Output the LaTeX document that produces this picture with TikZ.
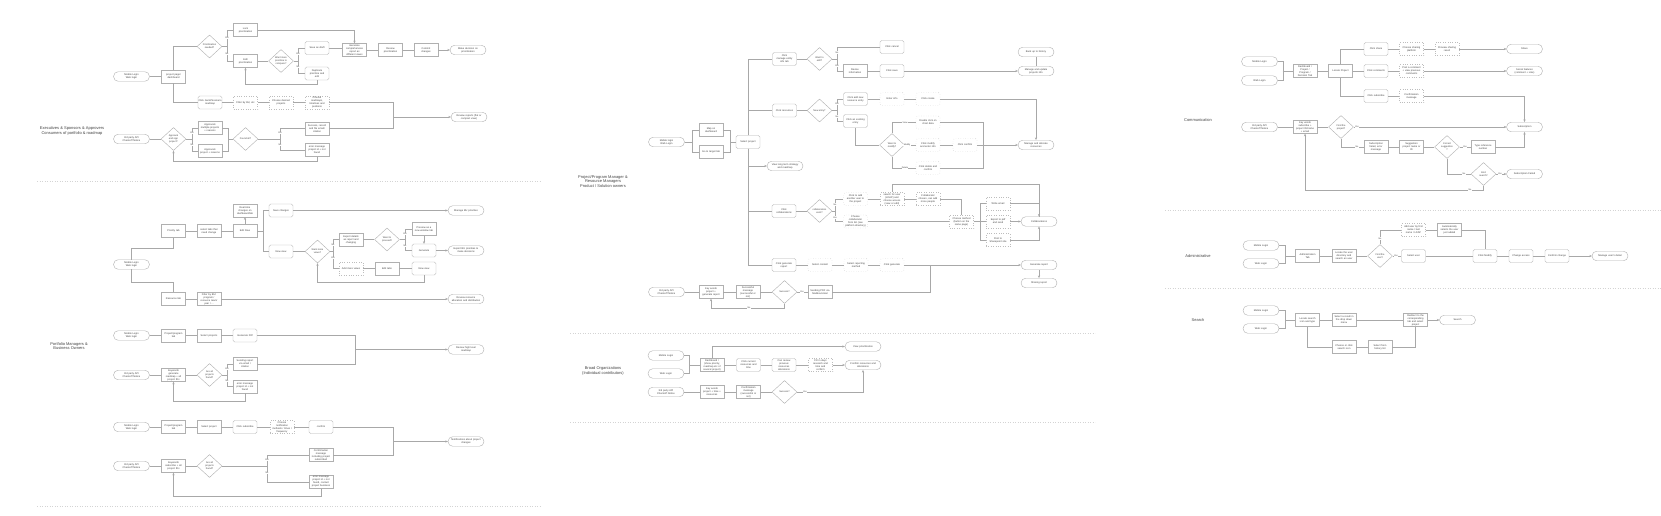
\documentclass[tikz,border=0pt]{standalone}
\usepackage{fontspec}
\setmainfont{Liberation Sans}
\usetikzlibrary{arrows.meta,shapes.geometric}

\definecolor{edgec}{HTML}{B0B0B0}
\definecolor{dotc}{HTML}{BDBDBD}
\definecolor{wirec}{HTML}{A8A8A8}
\definecolor{inkc}{HTML}{444444}
\definecolor{sepc}{HTML}{D4D4D4}

\begin{document}
\begin{tikzpicture}[x=1pt, y=-1pt,
  every node/.style={text=inkc},
  box/.style={draw=edgec, line width=0.4pt, rectangle, minimum width=24pt, minimum height=13pt,
    text width=23pt, inner sep=0.4pt, align=center, font=\fontsize{2.5}{3}\selectfont},
  rbox/.style={box, rounded corners=1.6pt},
  dbox/.style={box, draw=dotc, dotted},
  drbox/.style={rbox, draw=dotc, dotted},
  pill/.style={draw=edgec, line width=0.4pt, rounded corners=4.5pt, minimum width=35pt,
    minimum height=9.5pt, text width=35pt, inner sep=0.4pt, align=center, font=\fontsize{2.5}{3}\selectfont},
  dec/.style={draw=edgec, line width=0.4pt, diamond, aspect=1.05, minimum width=25pt,
    minimum height=23pt, inner sep=0pt, align=center, font=\fontsize{2.4}{2.9}\selectfont},
  yn/.style={fill=white, inner sep=0.3pt, font=\fontsize{2.2}{2.4}\selectfont},
  lane/.style={align=center, font=\fontsize{4}{4.6}\selectfont},
  wire/.style={draw=wirec, line width=0.4pt},
  arr/.style={wire, -{Stealth[length=2.6pt,width=2.2pt]}},
  sep/.style={draw=sepc, line width=0.5pt, dotted}]

  \fill[white] (0,0) rectangle (1661,516);
  \useasboundingbox (0,0) rectangle (1661,516);

  % lane separators
  \draw[sep] (37,181) -- (540,181);
  \draw[sep] (37,506) -- (540,506);
  \draw[sep] (570,333) -- (1095,333);
  \draw[sep] (570,422) -- (1095,422);
  \draw[sep] (1165,210) -- (1661,210);
  \draw[sep] (1165,288) -- (1661,288);

  % ---------- executives: prioritization ----------
  \node[lane] (laneA) at (72,131) {Executives \& Sponsors \& Approvers\\Consumers of portfolio \& roadmap};
  \node[pill] (aLogin) at (131.5,76.5) {Mobile Login\\Web login};
  \node[box]  (aDash)  at (173.5,76.5) {project page/\\dashboard};
  \node[dec]  (aPrio)  at (209.5,46.5) {Prioritization\\needed?};
  \node[box]  (aLock)  at (245.5,30) {Lock\\prioritization};
  \node[box]  (aEdit)  at (245.5,61) {Edit\\prioritization};
  \node[dec]  (aMore)  at (281,61) {Want more\\prioritize to\\compare?};
  \node[rbox] (aDraft) at (317,48) {Save as draft};
  \node[rbox] (aDup)   at (317,73.5) {Duplicate\\prioritize and\\edit};
  \node[box]  (aGen)   at (354.5,50) {Generate\\comprehensive\\report as\\different views};
  \node[box]  (aRev)   at (390.5,50) {Review\\prioritization};
  \node[box]  (aCommit) at (426,50) {Commit\\changes};
  \node[pill] (aDecide) at (468,50) {Make decision on\\prioritization};
  \node[rbox] (aGantt) at (210,102.5) {Click Gantt/Scenario\\roadmap};
  \node[dbox] (aFilter) at (245.5,102.5) {Filter by BU, etc};
  \node[dbox] (aPick)  at (281,102.5) {Choose desired\\projects};
  \node[dbox] (aRoad)  at (317,102.5) {Choose\\roadmaps,\\timelines and\\positions};
  \node[pill] (aReports) at (469,117) {Review reports (flat or\\compact view)};
  \coordinate (aJoin) at (393,117);
  \coordinate (aPrioB) at (227,46.5);
  \coordinate (aMoreB) at (298,61);
  \coordinate (aLoop) at (317,84);

  \draw[wire] (aLogin) -- (aDash);
  \draw[wire] (aDash.north) |- (aPrio.west);
  \draw[wire] (aDash.south) |- (aGantt.west);
  \draw[wire] (aPrio.east) -- (aPrioB);
  \draw[wire] (aPrioB) |- (aLock.west);
  \draw[wire] (aPrioB) |- (aEdit.west);
  \draw[wire] (aEdit) -- (aMore);
  \draw[wire] (aMore.east) -- (aMoreB);
  \draw[wire] (aMoreB) |- (aDraft.west);
  \draw[wire] (aMoreB) |- (aDup.west);
  \draw[arr]  (aDup.south) -- (aLoop) -| (aEdit.south);
  \draw[arr]  (aLock.east) -| (aGen.north);
  \draw[wire] (aDraft.east) -- (aDraft.east -| aGen.west);
  \draw[wire] (aGen) -- (aRev);
  \draw[wire] (aRev) -- (aCommit);
  \draw[arr]  (aCommit) -- (aDecide);
  \draw[wire] (aGantt) -- (aFilter);
  \draw[wire] (aFilter) -- (aPick);
  \draw[wire] (aPick) -- (aRoad);
  \draw[wire] (aRoad.east) -| (aJoin);
  \draw[arr]  (aJoin) -- (aReports.west);
  \node[yn] (aY1) at (227,38) {Yes};
  \node[yn] (aN1) at (227,54) {No};
  \node[yn] (aY2) at (298,54) {Yes};
  \node[yn] (aN2) at (298,67) {No};

  % executives: approvals
  \node[pill] (aApi)   at (131.5,139) {3rd party API\\Checkoff Notice};
  \node[dec]  (aSign)  at (173.5,139) {Approval\\and sign\\project?};
  \node[box]  (aMulti) at (210,128) {Approvals\\multiple projects\\+ reasons};
  \node[box]  (aOne)   at (210,151) {Approvals\\project + reasons};
  \node[dec]  (aFound) at (245.5,139) {Found all?};
  \node[box]  (aOk)    at (317,128.5) {Success, record\\and file email/\\citation};
  \node[box]  (aErr)   at (317,150) {error message\\project id + not\\found};
  \coordinate (aSignB) at (192,139);
  \coordinate (aFoundIn) at (228,139);
  \coordinate (aFoundB) at (280,139);
  \coordinate (aLoop2) at (317,161);

  \draw[wire] (aApi) -- (aSign);
  \draw[wire] (aSign.east) -- (aSignB);
  \draw[wire] (aSignB) |- (aMulti.west);
  \draw[wire] (aSignB) |- (aOne.west);
  \draw[wire] (aMulti.east) -| (aFoundIn);
  \draw[wire] (aOne.east) -| (aFoundIn);
  \draw[wire] (aFoundIn) -- (aFound.west);
  \draw[wire] (aFound.east) -- (aFoundB);
  \draw[wire] (aFoundB) |- (aOk.west);
  \draw[wire] (aFoundB) |- (aErr.west);
  \draw[wire] (aOk.east) -| (aJoin);
  \draw[arr]  (aErr.south) -- (aLoop2) -| (aSign.south);
  \node[yn] (aY3) at (192,133) {Yes};
  \node[yn] (aN3) at (192,145) {No};
  \node[yn] (aY4) at (280,133) {Yes};
  \node[yn] (aN4) at (280,145) {No};

  % ---------- BU priorities and resources ----------
  \node[pill] (bLogin) at (131.5,264.5) {Mobile Login\\Web login};
  \node[box]  (bPrio)  at (173.5,231) {Priority tab};
  \node[box]  (bSel)   at (209,231) {select tabs that\\need change};
  \node[box]  (bEdit)  at (245,231) {Edit Row};
  \node[box]  (bLive)  at (245,210.5) {Real-time\\changes on\\dashboard/tab};
  \node[rbox] (bSave)  at (281,210.5) {Save changes};
  \node[rbox] (bView)  at (281,251.5) {New view};
  \node[dec]  (bMore)  at (317.5,251.5) {Want more\\views?};
  \node[box]  (bExp)   at (351,239.5) {Export details\\as report and\\changing};
  \node[dbox] (bAdd)   at (351,268.5) {Add more views};
  \node[dec]  (bGo)    at (387,239.5) {Want to\\proceed?};
  \node[box]  (bPrev)  at (424,229) {Preview as a\\new window tab};
  \node[rbox] (bGen)   at (424,250.5) {Generate};
  \node[box]  (bTabs)  at (387,268.5) {Edit tabs};
  \node[rbox] (bNew)   at (424,268.5) {New view};
  \node[pill] (bManage) at (466,210.5) {Manage BU priorities};
  \node[pill] (bDecide) at (466,250.5) {Export BU priorities to\\make decisions};
  \node[box]  (bRes)   at (173.5,299) {Resource tab};
  \node[box]  (bFilt)  at (209,299) {Filter by BU/\\program /\\resource team/\\year / ...};
  \node[pill] (bAlloc) at (466,299) {Review resource\\allocation and distribution};
  \coordinate (bTop) at (131.5,248);
  \coordinate (bBot) at (131.5,282);
  \coordinate (bFork) at (263,231);
  \coordinate (bMoreB) at (333,251.5);
  \coordinate (bGoB) at (405,239.5);
  \coordinate (bLoop) at (424,282);

  \draw[wire] (bLogin.north) -- (bTop) -| (bPrio.south);
  \draw[wire] (bLogin.south) -- (bBot) -| (bRes.north);
  \draw[wire] (bPrio) -- (bSel);
  \draw[wire] (bSel) -- (bEdit);
  \draw[arr]  (bEdit.north) -- (bLive.south);
  \draw[wire] (bEdit.east) -- (bFork);
  \draw[wire] (bFork) |- (bSave.west);
  \draw[wire] (bFork) |- (bView.west);
  \draw[arr]  (bSave) -- (bManage);
  \draw[wire] (bView) -- (bMore);
  \draw[wire] (bMore.east) -- (bMoreB);
  \draw[wire] (bMoreB) |- (bExp.west);
  \draw[wire] (bMoreB) |- (bAdd.west);
  \draw[wire] (bExp) -- (bGo);
  \draw[wire] (bGo.east) -- (bGoB);
  \draw[wire] (bGoB) |- (bPrev.west);
  \draw[wire] (bGoB) |- (bGen.west);
  \draw[arr]  (bPrev.south) -- (bGen.north);
  \draw[arr]  (bGen) -- (bDecide);
  \draw[wire] (bAdd) -- (bTabs);
  \draw[wire] (bTabs) -- (bNew);
  \draw[arr]  (bNew.south) -- (bLoop) -| (bMore.south);
  \draw[wire] (bRes) -- (bFilt);
  \draw[arr]  (bFilt) -- (bAlloc);
  \node[yn] (bN1) at (333,245) {No};
  \node[yn] (bY1) at (333,258) {Yes};
  \node[yn] (bY2) at (405,234) {Yes};
  \node[yn] (bN2) at (405,246) {No};

  % ---------- portfolio managers: roadmap ----------
  \node[lane] (laneC) at (69,346) {Portfolio Managers \&\\Business Owners};
  \node[pill] (cLogin) at (131.5,335.5) {Mobile Login\\Web login};
  \node[box]  (cTab)   at (173.5,335.5) {Project/program\\tab};
  \node[box]  (cSel)   at (209,335.5) {Select projects};
  \node[rbox] (cPdf)   at (245,335.5) {Generate Pdf};
  \node[pill] (cRoad)  at (466,349.5) {Review high level\\roadmap};
  \node[pill] (cApi)   at (131.5,375) {3rd party API\\Checkoff Notice};
  \node[box]  (cKey)   at (173.5,375) {Keywords\\generate\\roadmap + all\\project IDs};
  \node[dec]  (cFound) at (209.5,375) {Are all\\projects\\found?};
  \node[box]  (cSend)  at (245,364) {Sending report\\via email /\\citation};
  \node[box]  (cErr)   at (245,386.5) {error message\\project id + not\\found};
  \coordinate (cJoin) at (355,349.5);
  \coordinate (cFork) at (227,375);
  \coordinate (cLoop) at (245,401);

  \draw[wire] (cLogin) -- (cTab);
  \draw[wire] (cTab) -- (cSel);
  \draw[wire] (cSel) -- (cPdf);
  \draw[wire] (cPdf.east) -| (cJoin);
  \draw[arr]  (cJoin) -- (cRoad.west);
  \draw[wire] (cApi) -- (cKey);
  \draw[wire] (cKey) -- (cFound);
  \draw[wire] (cFound.east) -- (cFork);
  \draw[wire] (cFork) |- (cSend.west);
  \draw[wire] (cFork) |- (cErr.west);
  \draw[wire] (cSend.east) -| (cJoin);
  \draw[arr]  (cErr.south) -- (cLoop) -| (cKey.south);
  \node[yn] (cY) at (227,369) {Yes};
  \node[yn] (cN) at (227,381) {No};

  % portfolio managers: subscriptions
  \node[pill] (dLogin) at (131.5,427) {Mobile Login\\Web login};
  \node[box]  (dTab)   at (173.5,427) {Project/program\\tab};
  \node[box]  (dSel)   at (209,427) {Select project};
  \node[rbox] (dSub)   at (245,427) {Click subscribe};
  \node[dbox] (dHow)   at (282,427) {Choose\\notification\\methods / times /\\frequency};
  \node[rbox] (dOk)    at (321,427) {confirm};
  \node[pill] (dNote)  at (466,441.5) {Notifications about project\\changes};
  \node[pill] (dApi)   at (131.5,466) {3rd party API\\Checkoff Notice};
  \node[box]  (dKey)   at (173.5,466) {Keywords\\subscribe + all\\project IDs};
  \node[dec]  (dFound) at (209.5,466) {Are all\\projects\\found?};
  \node[box]  (dConf)  at (321,455) {Confirmation\\message\\including project\\subscribed};
  \node[box]  (dErr)   at (321,482) {error message\\project id + not\\found, contact\\project business};
  \coordinate (dJoin) at (393,441.5);
  \coordinate (dFork) at (267,466);
  \coordinate (dLoop) at (321,496);

  \draw[wire] (dLogin) -- (dTab);
  \draw[wire] (dTab) -- (dSel);
  \draw[wire] (dSel) -- (dSub);
  \draw[wire] (dSub) -- (dHow);
  \draw[wire] (dHow) -- (dOk);
  \draw[wire] (dOk.east) -| (dJoin);
  \draw[arr]  (dJoin) -- (dNote.west);
  \draw[wire] (dApi) -- (dKey);
  \draw[wire] (dKey) -- (dFound);
  \draw[wire] (dFound.east) -- (dFork);
  \draw[wire] (dFork) |- (dConf.west);
  \draw[wire] (dFork) |- (dErr.west);
  \draw[wire] (dConf.east) -| (dJoin);
  \draw[arr]  (dErr.south) -- (dLoop) -| (dKey.south);
  \node[yn] (dY) at (267,460) {Yes};
  \node[yn] (dN) at (267,473) {No};

  % ---------- project / resource managers ----------
  \node[lane] (laneM) at (603,181.5) {Project/Program Manager \&\\Resource Managers\\Product / Solution owners};
  \node[pill] (mLogin) at (666.5,142) {Mobile login\\Web Login};
  \node[box]  (mMap)   at (711,130) {Map on\\dashboard};
  \node[box]  (mTab)   at (711,152) {Go to target tab};
  \node[rbox] (mProj)  at (748,142) {Select project};
  \coordinate (mSplit) at (692,142);
  \coordinate (mMerge) at (730,142);
  \draw[wire] (mLogin.east) -- (mSplit);
  \draw[wire] (mSplit) |- (mMap.west);
  \draw[wire] (mSplit) |- (mTab.west);
  \draw[wire] (mMap.east) -| (mMerge);
  \draw[wire] (mTab.east) -| (mMerge);
  \draw[wire] (mMerge) -- (mProj.west);

  % entity info
  \node[rbox] (mInfo)   at (784.5,59) {Click\\manage entity\\info tab};
  \node[dec]  (mEdit)   at (819.5,59) {Want to\\edit?};
  \node[rbox] (mCancel) at (892,47) {Click cancel};
  \node[box]  (mRevise) at (855,71) {Revise\\information};
  \node[rbox] (mSave)   at (892,71) {Click save};
  \node[pill] (mBackup) at (1036,52) {Back up to history};
  \node[pill] (mUpdate) at (1036,71) {Manage and update\\projects info};
  \coordinate (mEditB) at (837,59);
  \draw[wire] (mProj.north) |- (mInfo.west);
  \draw[wire] (mInfo) -- (mEdit);
  \draw[wire] (mEdit.east) -- (mEditB);
  \draw[wire] (mEditB) |- (mCancel.west);
  \draw[wire] (mEditB) |- (mRevise.west);
  \draw[wire] (mRevise) -- (mSave);
  \draw[arr]  (mSave) -- (mUpdate);
  \draw[wire] (mBackup) -- (mUpdate);
  \node[yn] (mN1) at (837,52.5) {No};
  \node[yn] (mY1) at (837,66) {Yes};

  % resources
  \node[rbox] (mRes)    at (784.5,110.5) {Click resources};
  \node[dec]  (mNew)    at (819.5,110.5) {New entry?};
  \node[rbox] (mAddNew) at (855.5,99) {Click add new\\resource entry};
  \node[drbox] (mEnter) at (892,99) {Enter info};
  \node[drbox] (mCreate) at (928,99) {Click create};
  \node[rbox] (mExist)  at (855.5,121) {Click an existing\\entry};
  \node[dec]  (mModify) at (892,145) {Want to\\modify?};
  \node[drbox] (mView)  at (928,122.5) {Double click on\\chart data};
  \node[drbox] (mChange) at (928,145) {Click modify\\and enter info};
  \node[drbox] (mConfirm) at (965,145) {Click confirm};
  \node[drbox] (mDelete) at (928,168) {Click delete and\\confirm};
  \node[pill] (mAlloc)  at (1036,145) {Manage and allocate\\resources};
  \node[pill] (mLong)   at (785,166) {View long term strategy\\and roadmap};
  \coordinate (mNewB) at (837,110.5);
  \coordinate (mJoin) at (983,145);
  \draw[wire] (mProj.north) |- (mRes.west);
  \draw[arr]  (mProj.south) |- (mLong.west);
  \draw[wire] (mRes) -- (mNew);
  \draw[wire] (mNew.east) -- (mNewB);
  \draw[wire] (mNewB) |- (mAddNew.west);
  \draw[wire] (mNewB) |- (mExist.west);
  \draw[wire] (mAddNew) -- (mEnter);
  \draw[wire] (mEnter) -- (mCreate);
  \draw[arr]  (mCreate.east) -| (mAlloc.north);
  \draw[wire] (mExist.south) |- (mModify.west);
  \draw[wire] (mModify.north) |- (mView.west);
  \draw[wire] (mModify) -- (mChange);
  \draw[wire] (mModify.south) |- (mDelete.west);
  \draw[wire] (mChange) -- (mConfirm);
  \draw[wire] (mView.east) -| (mJoin);
  \draw[wire] (mDelete.east) -| (mJoin);
  \draw[wire] (mConfirm) -- (mJoin);
  \draw[arr]  (mJoin) -- (mAlloc.west);
  \node[yn] (mY2) at (837,104) {Yes};
  \node[yn] (mN2) at (837,116.5) {No};
  \node[yn] (mV)  at (905,122.5) {View};
  \node[yn] (mM)  at (907,145) {Modify};
  \node[yn] (mD)  at (905,168) {Delete};

  % collaborations
  \node[rbox] (mCol)    at (784,211) {Click\\collaborations};
  \node[dec]  (mHas)    at (819.5,211) {collaborators\\exist?};
  \node[drbox] (mAddUser) at (855.5,199) {Click to add\\another user to\\the project};
  \node[drbox] (mPickUser) at (855.5,221.5) {Choose\\collaborator\\from list (see\\platform directory)};
  \node[dbox] (mLdap)   at (892,199) {search for user\\(LDAP) and\\choose access\\(view or edit)};
  \node[dbox] (mMore)   at (928,199) {Collaborator\\chosen, can add\\more people};
  \node[dbox] (mMethod) at (961.5,221.5) {Choose method\\(button on the\\same page)};
  \node[dbox] (mMail)   at (998,203.5) {Write email};
  \node[dbox] (mPdf)    at (998,221.5) {Export to pdf\\and send};
  \node[dbox] (mShare)  at (998,240) {Post to\\Sharepoint site};
  \node[pill] (mCollab) at (1039,221.5) {Collaborations};
  \coordinate (mHasB) at (835,211);
  \coordinate (mFan) at (980.5,221.5);
  \coordinate (mHigh) at (892,184);
  \draw[wire] (mProj.south) |- (mCol.west);
  \draw[wire] (mCol) -- (mHas);
  \draw[wire] (mHas.east) -- (mHasB);
  \draw[wire] (mHasB) |- (mAddUser.west);
  \draw[wire] (mHasB) |- (mPickUser.west);
  \draw[wire] (mAddUser) -- (mLdap);
  \draw[wire] (mLdap) -- (mMore);
  \draw[wire] (mMore.east) -| (mMethod.north);
  \draw[wire] (mPickUser) -- (mMethod);
  \draw[wire] (mMethod.east) -- (mFan);
  \draw[wire] (mFan) |- (mMail.west);
  \draw[wire] (mFan) -- (mPdf.west);
  \draw[wire] (mFan) |- (mShare.west);
  \draw[arr]  (mLdap.north) -- (mHigh) -| (mCollab.north);
  \draw[wire] (mMail.east) -| (mCollab.north);
  \draw[arr]  (mPdf) -- (mCollab);
  \draw[arr]  (mShare.east) -| (mCollab.south);
  \node[yn] (mN3) at (835,204.5) {No};
  \node[yn] (mY3) at (835,217.5) {Yes};

  % reports
  \node[rbox] (mRep)     at (784,265) {Click generate\\report};
  \node[drbox] (mContent) at (820,265) {Select content};
  \node[drbox] (mHow)    at (856,265) {Select reporting\\method};
  \node[drbox] (mGo)     at (892,265) {Click generate};
  \node[pill] (mReport)  at (1039,265) {Generate report};
  \node[pill] (mSend)    at (1039,283) {Sharing report};
  \node[pill] (mApi)     at (666.5,292) {3rd party API\\Checkoff Notice};
  \node[box]  (mKey)     at (711,292) {Key words\\project +\\generate report};
  \node[box]  (mMsg)     at (748,292) {Successful\\message\\(successful or\\not)};
  \node[dec]  (mOk)      at (784.5,292) {Success?};
  \node[box]  (mPdfMail) at (820,292) {Sending PDF via\\Mailbox/email};
  \coordinate (mUp) at (930.5,265);
  \coordinate (mLoop) at (784.5,308);
  \draw[wire] (mProj.south) |- (mRep.west);
  \draw[wire] (mRep) -- (mContent);
  \draw[wire] (mContent) -- (mHow);
  \draw[wire] (mHow) -- (mGo);
  \draw[arr]  (mGo) -- (mReport);
  \draw[arr]  (mReport) -- (mSend);
  \draw[wire] (mApi) -- (mKey);
  \draw[wire] (mKey) -- (mMsg);
  \draw[wire] (mMsg) -- (mOk);
  \draw[wire] (mOk) -- (mPdfMail);
  \draw[wire] (mPdfMail.east) -| (mUp);
  \draw[arr]  (mOk.south) -- (mLoop) -| (mKey.south);
  \node[yn] (mY4) at (802,292) {Yes};
  \node[yn] (mN4) at (749,308) {No};

  % ---------- broad organizations ----------
  \node[lane] (laneO) at (603,371) {Broad Organizations\\(Individual contributors)};
  \node[pill] (oMob)  at (666,355.5) {Mobile Login};
  \node[pill] (oWeb)  at (666,373.5) {Web Login};
  \node[box]  (oDash) at (712,365) {Dashboard /\\(show priority,\\roadmap etc of\\several project)};
  \node[rbox] (oNow)  at (748.5,365) {Click current\\resources and\\time};
  \node[rbox] (oPast) at (784,365) {Can review\\previous\\resources\\allocations};
  \node[dbox] (oFill) at (820.5,365) {Fill in days\\research and\\time and\\confirm};
  \node[pill] (oConfirm) at (863,365) {Confirm resources and\\allocations};
  \node[pill] (oPrio) at (863,346.5) {View prioritization};
  \node[pill] (oApi)  at (666,392) {3rd party API\\Checkoff Notice};
  \node[box]  (oKey)  at (712,392) {Key words\\project + time +\\resources};
  \node[box]  (oMsg)  at (748.5,392) {Confirmation\\message\\(successful or\\not)};
  \node[dec]  (oOk)   at (784.5,392) {Success?};
  \coordinate (oMerge) at (689,365);
  \draw[wire] (oMob.east) -| (oMerge);
  \draw[wire] (oWeb.east) -| (oMerge);
  \draw[wire] (oMerge) -- (oDash.west);
  \draw[arr]  (oDash.north) |- (oPrio.west);
  \draw[wire] (oDash) -- (oNow);
  \draw[wire] (oNow) -- (oPast);
  \draw[wire] (oPast) -- (oFill);
  \draw[arr]  (oFill) -- (oConfirm);
  \draw[wire] (oApi) -- (oKey);
  \draw[wire] (oKey) -- (oMsg);
  \draw[wire] (oMsg) -- (oOk);
  \draw[arr]  (oOk.east) -| (oConfirm.south);
  \node[yn] (oY) at (805,392) {Yes};

  % ---------- communication ----------
  \node[lane] (laneR) at (1198,120.5) {Communication};
  \node[pill] (rMob)    at (1259.5,61.5) {Mobile Login};
  \node[pill] (rWeb)    at (1259.5,80.5) {Web Login};
  \node[box]  (rDash)   at (1305,71) {Dashboard /\\Project /\\Program /\\Decision Tab};
  \node[box]  (rLocate) at (1340.5,71) {Locate Project};
  \node[rbox] (rShare)  at (1376,49) {Click share};
  \node[rbox] (rComment) at (1376,71) {Click comments};
  \node[rbox] (rSub)    at (1376,96) {Click subscribe};
  \node[dbox] (rPlat)   at (1411.5,49) {Choose sharing\\platform};
  \node[dbox] (rPrev)   at (1447,49) {Preview sharing\\result};
  \node[pill] (rShared) at (1524.5,49) {Share};
  \node[dbox] (rPost)   at (1411.5,71) {Post a comment\\+ view previous\\comments};
  \node[pill] (rSocial) at (1524.5,71) {Social features\\(comment + Like)};
  \node[dbox] (rMsg)    at (1411.5,96) {Confirmation\\message};
  \node[pill] (rSubd)   at (1524.5,127) {Subscription};
  \node[pill] (rApi)    at (1259.5,127) {3rd party API\\Checkoff Notice};
  \node[box]  (rKey)    at (1305,127) {Key words\\subscribe +\\project ID/name\\+ email};
  \node[dec]  (rFind)   at (1341,127) {Find the\\project?};
  \node[box]  (rFail)   at (1376,147) {Subscription\\failed, error\\message};
  \node[box]  (rSuggest) at (1411.5,147) {Suggestion\\project name or\\ID};
  \node[dec]  (rRight)  at (1447,147) {Correct\\suggestion\\?};
  \node[box]  (rRef)    at (1483,147) {Type reference\\number};
  \node[dec]  (rAgain)  at (1483.5,174) {End\\search?};
  \node[pill] (rFailed) at (1524.5,174) {Subscription Failed};
  \coordinate (rMerge) at (1282.7,71);
  \coordinate (rLoop) at (1483.5,190);
  \draw[wire] (rMob.east) -| (rMerge);
  \draw[wire] (rWeb.east) -| (rMerge);
  \draw[wire] (rMerge) -- (rDash.west);
  \draw[wire] (rDash) -- (rLocate);
  \draw[wire] (rLocate.north) |- (rShare.west);
  \draw[wire] (rLocate) -- (rComment);
  \draw[wire] (rLocate.south) |- (rSub.west);
  \draw[wire] (rShare) -- (rPlat);
  \draw[wire] (rPlat) -- (rPrev);
  \draw[arr]  (rPrev) -- (rShared);
  \draw[wire] (rComment) -- (rPost);
  \draw[arr]  (rPost) -- (rSocial);
  \draw[wire] (rSub) -- (rMsg);
  \draw[arr]  (rMsg.east) -| (rSubd.north);
  \draw[wire] (rApi) -- (rKey);
  \draw[wire] (rKey) -- (rFind);
  \draw[arr]  (rFind) -- (rSubd);
  \draw[wire] (rFind.south) |- (rFail.west);
  \draw[wire] (rFail) -- (rSuggest);
  \draw[wire] (rSuggest) -- (rRight);
  \draw[wire] (rRight) -- (rRef);
  \draw[arr]  (rRef.east) -| (rSubd.south);
  \draw[wire] (rRight.south) |- (rAgain.west);
  \draw[arr]  (rAgain) -- (rFailed);
  \draw[arr]  (rAgain.south) -- (rLoop) -| (rKey.south);
  \node[yn] (rY1) at (1357,127) {Yes};
  \node[yn] (rN1) at (1357,147) {No};
  \node[yn] (rY2) at (1465,147) {Yes};
  \node[yn] (rN2) at (1464,174) {No};
  \node[yn] (rY3) at (1500,174) {Yes};
  \node[yn] (rN3) at (1470,190) {No};

  % ---------- administrative ----------
  \node[lane] (laneS) at (1198,256.5) {Administrative};
  \node[pill] (sMob)    at (1261,245.5) {Mobile Login};
  \node[pill] (sWeb)    at (1261,263.5) {Web Login};
  \node[box]  (sTab)    at (1307.5,256) {Administration\\Tab};
  \node[box]  (sDir)    at (1344,256) {Locate the user\\directory and\\search an user};
  \node[dec]  (sFind)   at (1380,256) {Find the\\user?};
  \node[rbox] (sUser)   at (1413.5,256) {Select user};
  \node[dbox] (sAdd)    at (1413.5,230) {Add user by first\\name / last\\name / LDAP};
  \node[box]  (sAuto)   at (1449.5,230) {Automatically\\selects the user\\just added};
  \node[rbox] (sModify) at (1485,256) {Click Modify};
  \node[rbox] (sAccess) at (1521,256) {Change access};
  \node[rbox] (sChange) at (1557,256) {Confirm change};
  \node[pill] (sDetail) at (1610,256) {Manage user's detail};
  \coordinate (sMerge) at (1285,256);
  \draw[wire] (sMob.east) -| (sMerge);
  \draw[wire] (sWeb.east) -| (sMerge);
  \draw[wire] (sMerge) -- (sTab.west);
  \draw[wire] (sTab) -- (sDir);
  \draw[wire] (sDir) -- (sFind);
  \draw[wire] (sFind) -- (sUser);
  \draw[wire] (sFind.north) |- (sAdd.west);
  \draw[wire] (sAdd) -- (sAuto);
  \draw[wire] (sAuto.east) -| (sModify.north);
  \draw[wire] (sUser) -- (sModify);
  \draw[wire] (sModify) -- (sAccess);
  \draw[wire] (sAccess) -- (sChange);
  \draw[arr]  (sChange) -- (sDetail);
  \node[yn] (sY) at (1396,256) {Yes};
  \node[yn] (sN) at (1380,238.5) {No};

  % ---------- search ----------
  \node[lane] (laneQ) at (1198,320) {Search};
  \node[pill] (qMob)   at (1261,310.5) {Mobile Login};
  \node[pill] (qWeb)   at (1261,328.5) {Web Login};
  \node[box]  (qIcon)  at (1307.5,320) {Locate search\\icon and type};
  \node[box]  (qPick)  at (1344,320) {Select a result in\\the drop down\\menu};
  \node[box]  (qGo)    at (1415.5,320) {Redirect to the\\corresponding\\tab and select\\project};
  \node[pill] (qFound) at (1457.5,320) {Search};
  \node[box]  (qAgain) at (1344,347) {Choose or click\\search icon};
  \node[box]  (qHist)  at (1380,347) {Select from\\history list};
  \coordinate (qMerge) at (1285,320);
  \draw[wire] (qMob.east) -| (qMerge);
  \draw[wire] (qWeb.east) -| (qMerge);
  \draw[wire] (qMerge) -- (qIcon.west);
  \draw[wire] (qIcon) -- (qPick);
  \draw[wire] (qPick) -- (qGo);
  \draw[arr]  (qGo) -- (qFound);
  \draw[wire] (qIcon.south) |- (qAgain.west);
  \draw[wire] (qAgain) -- (qHist);
  \draw[wire] (qHist.east) -| (qGo.south);
\end{tikzpicture}
\end{document}
